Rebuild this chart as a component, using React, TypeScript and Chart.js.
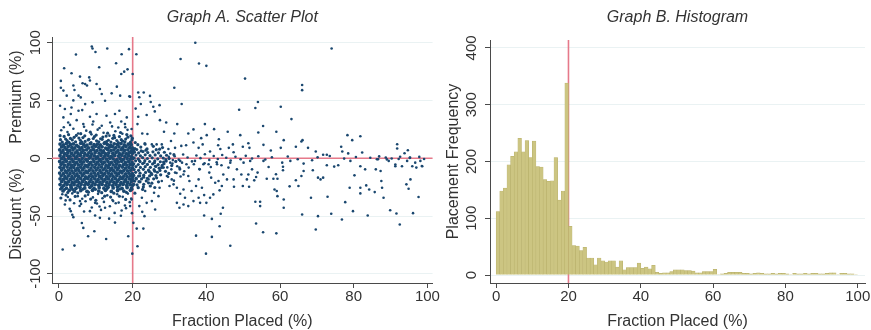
import React, { useEffect, useRef } from 'react';
import { Chart, registerables } from 'chart.js';

Chart.register(...registerables);

const FONT = '"Liberation Sans", Arial, Helvetica, sans-serif';
const TEXT = '#333333';
const AXIS = '#4a4a4a';
const GRID = '#eaf2f3';
const NAVY = '#1a476f';
const REF = '#e6798a';
const BAR_FILL = 'rgb(204,197,130)';
const BAR_EDGE = 'rgb(182,174,104)';

const scatterTitle = 'Graph A. Scatter Plot';
const histTitle = 'Graph B. Histogram';
const xTitle = 'Fraction Placed (%)';
const premiumLabel = 'Premium (%)';
const discountLabel = 'Discount (%)';
const histYLabel = 'Placement Frequency';

const scatterXTicks = [0, 20, 40, 60, 80, 100];
const scatterYTicks = [-100, -50, 0, 50, 100];
const histXTicks = [0, 20, 40, 60, 80, 100];
const histYTicks = [0, 100, 200, 300, 400];
const refFraction = 20;
const refPremium = 0;

// placements per 1%-wide bin of fraction placed (bins 0-1, 1-2, ... 99-100)
const histCounts = [
  112, 148, 153, 194, 209, 217, 241, 217, 237, 207, 236, 191, 190, 168, 165, 166, 207, 132, 148, 338,
  86, 52, 51, 43, 49, 30, 30, 18, 30, 25, 23, 25, 25, 14, 25, 9, 13, 13, 13, 21,
  12, 14, 11, 17, 5, 3, 4, 4, 6, 9, 9, 9, 8, 8, 7, 4, 4, 6, 6, 6,
  10, 1, 2, 3, 5, 5, 5, 5, 3, 3, 2, 3, 4, 3, 2, 2, 3, 2, 3, 3,
  2, 1, 3, 2, 2, 3, 2, 3, 3, 2, 2, 3, 4, 4, 1, 3, 3, 2, 2, 1,
];

// dense core of placements (fraction 0-20%)
const blobPoints: [number, number][] = [
  [0.3,12.3],[1.2,11.5],[2.0,12.8],[3.1,11.9],[3.9,12.4],[4.8,11.2],[5.9,12.9],[6.7,12.0],[7.6,11.4],[8.5,12.6],[9.5,11.8],[10.4,12.2],[11.2,11.6],[12.3,12.9],[13.1,12.1],[14.0,11.3],[15.0,12.5],[15.9,11.9],[16.8,12.7],[17.7,11.5],[18.8,12.2],[19.6,11.8],
  [0.7,9.8],[1.6,9.1],[2.5,10.2],[3.5,9.4],[4.3,8.9],[5.3,9.9],[6.2,9.2],[7.1,10.1],[8.0,9.0],[9.0,9.7],[9.9,10.3],[10.8,9.3],[11.7,9.9],[12.7,8.8],[13.6,9.6],[14.5,10.2],[15.4,9.1],[16.3,9.8],[17.3,9.3],[18.2,10.0],[19.2,9.4],[19.9,8.9],
  [0.2,7.3],[1.1,6.6],[2.1,7.5],[2.9,6.8],[3.8,7.2],[4.9,6.4],[5.7,7.6],[6.6,6.9],[7.5,7.3],[8.6,6.5],[9.4,7.4],[10.3,6.7],[11.3,7.1],[12.1,6.3],[13.2,7.5],[14.1,6.8],[14.9,7.2],[16.0,6.6],[16.9,7.4],[17.8,6.9],[18.7,7.3],[19.7,6.7],
  [0.6,4.8],[1.5,4.1],[2.4,5.0],[3.4,4.3],[4.4,4.7],[5.2,3.9],[6.1,4.9],[7.0,4.2],[8.1,4.6],[8.9,3.8],[9.8,4.8],[10.9,4.4],[11.8,4.9],[12.6,4.0],[13.5,4.7],[14.6,4.3],[15.5,5.0],[16.4,4.1],[17.4,4.6],[18.3,3.9],[19.1,4.8],[19.9,4.3],
  [0.3,2.2],[1.3,1.6],[2.2,2.5],[3.0,1.8],[4.0,2.3],[4.9,1.5],[5.8,2.4],[6.8,1.9],[7.7,2.6],[8.6,1.7],[9.6,2.1],[10.5,1.4],[11.4,2.5],[12.4,1.8],[13.3,2.3],[14.2,1.6],[15.1,2.4],[16.1,1.9],[17.0,2.6],[17.9,1.7],[18.9,2.2],[19.7,1.5],
  [0.7,-0.3],[1.6,-1.0],[2.6,0.0],[3.5,-0.8],[4.5,-0.2],[5.4,-1.1],[6.3,-0.4],[7.3,-0.9],[8.2,0.1],[9.2,-0.7],[10.1,-0.2],[11.0,-1.0],[11.9,-0.3],[12.9,-0.8],[13.8,0.0],[14.7,-0.6],[15.7,-1.1],[16.6,-0.2],[17.5,-0.9],[18.5,-0.4],[19.4,-0.7],[20.0,-0.1],
  [0.2,-2.8],[1.1,-3.4],[2.0,-2.6],[3.0,-3.3],[3.9,-2.9],[4.8,-3.6],[5.8,-2.7],[6.7,-3.2],[7.7,-2.5],[8.6,-3.5],[9.5,-2.8],[10.5,-3.3],[11.4,-2.6],[12.3,-3.4],[13.3,-2.9],[14.2,-3.5],[15.2,-2.7],[16.1,-3.2],[17.0,-2.6],[18.0,-3.6],[18.9,-2.9],[19.8,-3.3],
  [0.6,-5.2],[1.5,-5.9],[2.5,-5.3],[3.4,-6.0],[4.3,-5.4],[5.3,-5.8],[6.2,-5.1],[7.2,-6.1],[8.1,-5.5],[9.0,-5.9],[10.0,-5.2],[10.9,-5.7],[11.8,-5.0],[12.8,-6.0],[13.7,-5.4],[14.7,-5.8],[15.6,-5.1],[16.5,-6.1],[17.5,-5.5],[18.4,-5.9],[19.3,-5.3],[20.0,-5.7],
  [0.3,-7.8],[1.2,-8.4],[2.2,-7.6],[3.1,-8.3],[4.0,-7.9],[5.0,-8.6],[5.9,-7.7],[6.8,-8.2],[7.8,-7.5],[8.7,-8.5],[9.7,-7.8],[10.6,-8.3],[11.5,-7.6],[12.5,-8.4],[13.4,-7.9],[14.3,-8.6],[15.3,-7.7],[16.2,-8.2],[17.2,-7.6],[18.1,-8.5],[19.0,-7.9],[19.9,-8.3],
  [0.7,-10.2],[1.7,-10.9],[2.6,-10.3],[3.5,-11.0],[4.5,-10.4],[5.4,-10.8],[6.4,-10.1],[7.3,-11.1],[8.2,-10.5],[9.2,-10.9],[10.1,-10.2],[11.1,-10.7],[12.0,-10.0],[12.9,-11.0],[13.9,-10.4],[14.8,-10.8],[15.8,-10.1],[16.7,-11.1],[17.6,-10.5],[18.6,-10.9],[19.5,-10.3],
  [0.2,-12.8],[1.2,-13.4],[2.1,-12.6],[3.0,-13.3],[4.0,-12.9],[4.9,-13.6],[5.9,-12.7],[6.8,-13.2],[7.7,-12.5],[8.7,-13.5],[9.6,-12.8],[10.6,-13.3],[11.5,-12.6],[12.4,-13.4],[13.4,-12.9],[14.3,-13.6],[15.3,-12.7],[16.2,-13.2],[17.1,-12.6],[18.1,-13.6],[19.0,-12.9],[19.9,-13.3],
  [0.6,-15.2],[1.6,-15.9],[2.5,-15.3],[3.5,-16.0],[4.4,-15.4],[5.3,-15.8],[6.3,-15.1],[7.2,-16.1],[8.2,-15.5],[9.1,-15.9],[10.0,-15.2],[11.0,-15.7],[11.9,-15.0],[12.9,-16.0],[13.8,-15.4],[14.7,-15.8],[15.7,-15.1],[16.6,-16.1],[17.6,-15.5],[18.5,-15.9],[19.4,-15.3],[20.0,-15.8],
  [0.3,-17.8],[1.2,-18.4],[2.1,-17.6],[3.1,-18.3],[4.0,-17.9],[5.0,-18.6],[5.9,-17.7],[6.9,-18.2],[7.8,-17.5],[8.7,-18.5],[9.7,-17.8],[10.6,-18.3],[11.6,-17.6],[12.5,-18.4],[13.4,-17.9],[14.4,-18.6],[15.3,-17.7],[16.3,-18.2],[17.2,-17.6],[18.1,-18.5],[19.1,-17.9],[19.9,-18.3],
  [0.7,-20.2],[1.7,-20.9],[2.6,-20.3],[3.6,-21.0],[4.5,-20.4],[5.4,-20.8],[6.4,-20.1],[7.3,-21.1],[8.3,-20.5],[9.2,-20.9],[10.2,-20.2],[11.1,-20.7],[12.0,-20.0],[13.0,-21.0],[13.9,-20.4],[14.9,-20.8],[15.8,-20.1],[16.8,-21.1],[17.7,-20.5],[18.6,-20.9],[19.6,-20.3],
  [0.3,-22.8],[1.3,-23.4],[2.2,-22.6],[3.2,-23.3],[4.1,-22.9],[5.1,-23.6],[6.0,-22.7],[7.0,-23.2],[7.9,-22.5],[8.9,-23.5],[9.8,-22.8],[10.8,-23.3],[11.7,-22.6],[12.7,-23.4],[13.6,-22.9],[14.6,-23.6],[15.5,-22.7],[16.5,-23.2],[17.4,-22.6],[18.4,-23.5],[19.3,-22.9],[20.0,-23.3],
  [0.8,-25.3],[2.0,-25.9],[3.3,-25.1],[4.6,-26.0],[5.7,-25.4],[7.0,-25.8],[8.4,-25.2],[9.5,-26.1],[10.9,-25.5],[12.2,-25.9],[13.3,-25.2],[14.7,-25.7],[15.9,-25.0],[17.1,-26.0],[18.5,-25.4],[19.7,-25.8],
  [1.1,-28.3],[2.8,-27.6],[4.2,-28.5],[5.9,-27.9],[7.6,-28.6],[9.1,-27.7],[10.8,-28.4],[12.6,-27.8],[14.2,-28.7],[15.9,-27.9],[17.6,-28.4],[19.4,-27.7],
];

// softer edges of the core and the band just above the 20% cut-off
const bandPoints: [number, number][] = [
  [1.4,18.9],[3.1,17.2],[4.7,19.8],[6.5,17.9],[8.1,16.4],[9.6,18.7],[11.3,16.9],[12.8,19.2],[14.6,17.3],[16.4,18.8],[18.1,16.6],[19.5,19.4],
  [0.4,16.1],[2.2,15.3],[5.8,15.6],[10.2,15.1],[15.7,15.4],[19.8,15.9],[7.1,14.6],[12.9,14.4],[17.3,14.8],
  [0.9,14.1],[1.8,16.7],[2.7,13.8],[3.6,15.9],[4.5,14.3],[5.4,17.5],[6.2,13.9],[7.9,15.8],[8.7,13.6],[9.3,17.1],[10.8,14.2],[11.7,16.4],[12.4,13.7],[13.4,15.6],[14.1,14.0],[15.1,17.8],[16.1,13.5],[16.9,16.1],[17.9,14.2],[18.7,18.3],[19.4,13.9],
  [0.3,19.6],[2.6,20.4],[4.1,18.1],[5.9,21.3],[7.0,19.4],[8.5,22.6],[10.1,20.1],[11.9,18.4],[13.2,21.7],[14.9,19.8],[16.7,22.3],[18.4,20.5],[19.9,17.4],
  [0.4,-26.6],[1.5,-27.1],[2.4,-29.6],[3.7,-27.0],[5.1,-29.9],[6.5,-26.8],[8.0,-29.4],[9.9,-26.9],[11.6,-29.8],[13.0,-26.7],[14.9,-30.2],[16.6,-26.6],[18.3,-29.5],[19.8,-26.9],
  [1.9,-31.9],[4.4,-33.0],[7.1,-32.6],[8.6,-35.3],[12.4,-32.8],[14.0,-33.6],[16.4,-32.9],[18.1,-35.6],[0.5,-34.4],[10.0,-36.4],[3.0,-36.1],
  [20.5,5.3],[21.6,4.6],[22.8,5.8],[24.1,4.9],[25.5,5.6],[27.0,4.7],[28.6,5.2],
  [20.9,2.8],[22.1,2.1],[23.4,3.0],[24.7,2.3],[26.1,2.9],[27.6,2.0],[29.2,2.6],
  [20.4,0.3],[21.5,-0.4],[22.7,0.5],[24.0,-0.2],[25.3,0.4],[26.8,-0.5],[28.3,0.2],[29.9,-0.3],
  [20.8,-2.2],[22.0,-2.9],[23.3,-2.1],[24.6,-2.8],[26.0,-2.3],[27.5,-3.0],[29.1,-2.4],
  [20.3,-4.8],[21.5,-5.4],[22.7,-4.6],[24.0,-5.3],[25.4,-4.9],[26.9,-5.5],[28.5,-4.7],
  [20.9,-7.2],[22.1,-7.9],[23.4,-7.3],[24.8,-7.8],[26.3,-7.1],[27.9,-7.9],
  [20.4,-9.8],[21.6,-10.4],[22.9,-9.6],[24.3,-10.3],[25.8,-9.9],[27.4,-10.5],
  [20.8,-12.2],[22.0,-12.9],[23.5,-12.3],[25.0,-12.8],[26.7,-12.1],
  [20.3,-14.8],[21.6,-15.4],[23.0,-14.6],[24.6,-15.3],[26.3,-14.9],
  [20.9,-17.2],[22.4,-17.9],[24.0,-17.3],[25.7,-17.8],
  [20.5,-19.8],[22.0,-20.4],[23.7,-19.6],[21.2,-23.1],[23.0,-22.6],[24.8,-24.0],
  [20.6,8.4],[22.2,9.7],[23.9,8.1],[25.6,10.3],[21.4,11.8],[27.3,7.9],
  [20.2,6.9],[21.1,7.6],[22.3,6.4],[23.6,7.0],[20.7,13.6],[23.3,12.6],[26.4,7.4],[28.1,9.3],[29.0,-1.2],[28.0,-6.2],[28.9,-11.3],[27.6,-14.3],[26.5,-16.9],[27.0,-20.4],[25.2,-21.6],[21.5,-25.5],[26.0,-25.3],[22.7,-27.0],[20.6,-30.2],
  [30.6,-6.3],[31.7,-2.7],[31.2,3.1],[32.8,-9.4],[29.8,-13.1],[21.0,-17.9],[21.7,-20.3],[22.9,-24.8],[24.3,-21.3],[20.3,-22.5],[21.8,-2.0],[23.1,-3.9],[25.9,-3.8],[27.2,-8.6],[28.4,-3.3],[24.5,-11.4],[26.0,-11.2],[23.0,-16.4],[25.2,-14.0],
];

// sparse placements: thin band along zero and the outer fringe of the core
const sparsePoints: [number, number][] = [
  [0.6,24.2],[2.3,22.8],[3.9,25.6],[5.2,21.4],[7.4,23.9],[8.8,20.7],[10.5,24.8],[12.1,22.1],[13.7,19.6],[15.3,23.4],[17.2,21.2],[18.6,24.6],
  [1.3,26.8],[6.8,27.3],[11.0,26.2],[14.4,27.6],[18.0,26.9],[3.0,28.9],[9.1,29.3],[16.9,31.9],
  [0.9,-31.2],[2.4,-33.5],[3.6,-30.4],[5.1,-32.8],[6.3,-35.1],[7.9,-31.6],[9.2,-33.9],[10.6,-30.8],[11.8,-34.6],[13.1,-32.1],[14.5,-36.2],[15.8,-31.1],[17.3,-33.4],[18.7,-30.6],[19.6,-34.8],
  [1.8,-36.5],[4.1,-38.9],[5.6,-41.3],[7.2,-37.2],[8.9,-42.6],[10.3,-39.1],[12.2,-37.8],[13.8,-41.5],[16.2,-38.4],[17.9,-40.9],[19.2,-38.0],
  [2.9,-43.8],[6.8,-46.1],[11.4,-44.7],[15.1,-47.3],[18.2,-43.2],[3.6,-48.9],[9.8,-49.5],[13.6,-52.3],[16.8,-49.8],[19.8,-47.5],
  [15.4,-39.0],[6.0,-39.5],[11.0,-41.8],
  [30.2,4.1],[31.4,1.8],[32.5,-1.2],[33.7,3.2],[34.9,0.6],[36.1,-2.7],[37.3,2.4],[38.4,0.1],[39.6,3.5],[40.8,-1.4],[42.0,1.9],[43.1,-0.6],[44.3,2.8],[45.4,0.4],
  [30.8,-4.6],[32.1,-6.9],[33.4,-3.8],[35.2,-8.1],[36.6,-5.2],[38.1,-9.4],[39.5,-4.3],[41.2,-7.6],[42.8,-3.4],[44.1,-6.1],
  [30.5,-9.6],[31.9,-12.8],[34.0,-11.2],[29.6,-16.1],[31.2,-19.4],[33.0,-15.8],[29.4,-7.9],[29.8,1.2],[30.9,-1.6],
  [46.6,-1.9],[47.9,1.3],[49.3,-0.8],[50.7,2.1],[52.4,-0.2],[54.1,1.7],[56.0,-1.1],[57.8,0.9],
  [62.1,1.5],[64.8,-0.9],[70.2,0.8],[73.5,1.9],[77.4,-0.3],[80.6,1.1],[84.5,0.4],[86.9,1.6],[88.7,0.7],[90.3,-0.2],[92.6,1.3],[95.2,0.3],[97.8,1.2],[99.1,-0.6],
  [86.6,-0.9],[89.0,-1.0],[92.2,-0.6],[96.7,-3.8],[98.5,-6.7],[95.3,0.6],[91.3,-5.4],
];

// premiums (points above the core)
const upperPoints: [number, number][] = [
  [37,100],[74,95],[21,90],[33,86],[38,82],[40,80],[20,73],[50.5,69],[66,63.5],[66,59],[31.3,61],[21.5,57],[23,57],[24.7,54],[24.9,48.7],[22.2,47],[25.6,44.6],[27.3,46],[26,40.6],[33.3,47],[54,48.7],[53.3,43.5],[48.9,42],[60.2,44.6],[63.1,33.9],[55.4,28],[54.1,22.3],[59,23],[45.8,22.9],[42.1,25.2],[39.6,29.6],[36.5,25],[32.1,29.6],[29.1,31],[27.4,33],[23.8,37.4],[21.5,36],[28.5,23],[31.3,21.5],[35.1,21.5],[38.6,17.4],[40.1,20],[43.4,16.5],[49.2,20],[61,15.7],[66.1,15.7],[78.3,20],[81.8,19],[79.6,15.7],[91.8,12.2],[91.8,8.4],[94.7,7],[93.8,4.3],[76.6,10],[76.9,5.8],[82.3,5],[78.5,4.2],[69.7,5.8],[71.7,3],[72.7,3],[67.6,9],[65.8,14.5],[64.3,10],[60.2,9],[57.5,6.7],[55.5,11.6],[51.4,13],[51.7,9],[49.9,10],[47.2,12],[46.1,9],[47.4,5.2],[43.2,11.3],[43.8,8],[41,5.8],[37.9,9],[39,12],[36.5,13.6],[34.5,11.3],[33.2,10.7],[30.4,15],[31.5,9],[29.7,8],[27.9,12],[26.5,12],[25.2,12],[23.4,12],[22.6,21.5],[24,21],[21.3,29.6],[20.8,43],[21.8,52.8],
  [8.9,96.8],[9.1,95],[9.9,92],[13.1,95],[19,94.5],[4.6,89.8],[17,90],[15.5,82.3],[10.9,78.8],[1.4,78],[18.6,77],[3.4,73.6],[16.9,73],[5.7,70.7],[8.2,70],[8.4,67.3],[0.5,67],[6.4,65],[7.6,63],[10.2,64.3],[3.9,63],[1.2,58.6],[2.1,54.2],[4.2,59.1],[5.3,54.2],[5.9,52.7],[11.6,55.7],[14.3,56.2],[16.6,54.2],[19.3,53.3],[12.5,49.8],[9.1,48.4],[7.1,46.9],[0.3,45.5],[1.6,42.6],[3.4,44],[3.2,38.3],[5.3,41.2],[6.3,41.7],[8.4,36],[10.2,38.3],[12.9,36.8],[15.2,38.3],[16.4,41.2],[18.4,35.4],[1.2,35.4],[2.5,31],[4.8,33],[6.6,29.6],[9.3,31.9],[11.6,28.1],[13.9,31],[16.1,26.7],[17.9,29.6],[19.7,25.3],
  [7.1,64.3],[0.5,61],[3.9,50.1],[11.1,60],[15.7,62],[19.1,53.6],[17.7,75],
];

// discounts (points below the core)
const lowerPoints: [number, number][] = [
  [21.1,-60.9],[22.9,-60.9],[21.3,-76.2],[19.9,-82.6],[20.2,-55.9],[22.6,-46.4],[23.2,-50.1],[26.1,-44.3],[37.2,-67],[39.9,-82.6],[41.5,-68.1],[41.5,-52.5],[39.4,-49.6],[43.6,-58.8],[43.9,-48.1],[44.5,-42.9],[46.5,-75.7],[53.5,-56.5],[55.4,-64.1],[59,-65],[53.3,-37.7],[54.6,-37.7],[54.6,-41.4],[61,-42.9],[61,-35.7],[59.3,-32.8],[59.1,-28.4],[58.5,-27],[66,-48.7],[70.3,-50.1],[69.7,-61.7],[73.9,-48.1],[76.8,-53],[77.7,-38],[79.8,-45.8],[83.8,-49.6],[89.9,-45],[91.6,-47.8],[92.5,-57.4],[96.1,-47.5],[97.6,-33.6],[88.1,-34.2],[87.7,-25.5],[87.5,-19.7],[85.7,-29.3],[84.2,-27],[83.4,-23.5],[81.8,-25.5],[81.8,-30.4],[80.2,-14.8],[78.9,-25.5],[74.7,-7.2],[75.8,-6],[72.7,-6],[71.7,-16.8],[71,-18.3],[72.9,-33.3],[70.3,-16.8],[68.9,-10.4],[68.4,-34.2],[66.4,-11],[66.4,-4.6],[65.8,-15.4],[65,-24],[64.3,-19],[62.6,-24.3],[60.8,-10.4],[60.8,-7.4],[60.6,-3.8],[58.9,-13.9],[59.3,-17.7],[58.2,-17.7],[56.4,-17.7],[56.9,-7.5],[53.5,-16.2],[53,-19.1],[53.9,-12.4],[52.4,-9.6],[51.4,-14],[51,-18.3],[49.9,-24],[51.6,-24.6],[49.5,-14],[48.3,-9.6],[47.4,-18.3],[47.5,-24.6],[46,-8.1],[44.6,-14],[45.6,-18.3],[44.2,-24],[43.6,-27.8],[42.4,-21.2],[43.3,-19.7],[41.3,-16.8],[41.9,-31.3],[41,-34.2],[40,-38.6],[40.8,-12.4],[39.2,-5.2],[40.6,-5.2],[38.2,-9.6],[37.9,-18.3],[37.2,-24],[38.8,-25.5],[39.4,-31.9],[37.9,-34.2],[38.3,-38.6],[36.5,-37.1],[36,-28.4],[35.4,-19.7],[35.1,-41.4],[33.8,-40],[32.7,-42.9],[32,-38.6],[34.2,-34.2],[32.9,-30.7],[32,-25.5],[33.8,-27],[35.1,-15.4],[33.8,-14],[32.7,-8.1],[31.5,-12.4],[30.6,-18.3],[31.1,-22.6],[30,-24],[29.3,-15.4],[28.4,-8.1],[27.9,-19.7],[27.3,-25.5],[27,-32.8],[25.8,-29.9],[25.2,-37.1],[24.7,-24],[24.3,-18.3],[23.4,-28.4],[22.5,-34.2],[23.8,-38.6],[21.8,-41.4],[21.5,-25.5],[22,-15.4],[26.1,-6.9],[30.2,-3.8],[34.6,-5.2],[32.9,-2.3],[36.9,-2.3],[42.9,-5.2],[46.5,-3.8],[50.1,-3.8],[51.9,-2.3],[55.5,-2.3],[62.8,-2.3],[68.7,-1.7],[79.1,-2.3],[86.3,-0.9],[86,-9.6],[87.3,-11],[89.5,-2.3],[91.3,-6.9],[93.1,-6.9],[94.5,-2.3],[95.9,-6.9],[97,-8.1],[98.6,-6.9],[98.1,-2.3],[94.3,-22.6],[94.9,-26.4],[95.4,-18.3],[83.1,-9.6],[81.8,-6.9],
  [1.0,-79],[4.2,-75.6],[7.9,-67.5],[9.6,-63.2],[12.8,-69.9],[15.2,-55.7],[18.8,-67.5],[6.6,-60.3],[6.2,-56],[11.1,-51.6],[3.9,-51],[3.2,-45.8],[8.4,-45.8],[12.5,-42.9],[17,-45.2],[19.3,-41.4],[1.6,-40],[5.7,-37.1],[9.8,-38.6],[14.7,-37.1],[19.7,-35.7],
];

function vText(ctx: CanvasRenderingContext2D, t: string, cx: number, cy: number) {
  ctx.save();
  ctx.translate(cx, cy);
  ctx.rotate(-Math.PI / 2);
  ctx.fillText(t, 0, 0);
  ctx.restore();
}

function axisCommon(ticks: number[], isX: boolean, min: number, max: number, size: number) {
  return {
    type: 'linear' as const,
    min,
    max,
    offset: false,
    afterBuildTicks: (s: any) => { s.ticks = ticks.map((v) => ({ value: v })); },
    afterFit: (s: any) => { if (isX) s.height = size; else s.width = size; },
    grid: {
      display: true,
      offset: false,
      drawOnChartArea: !isX,
      color: GRID,
      lineWidth: 1,
      drawTicks: true,
      tickLength: 5,
      tickColor: AXIS,
      tickWidth: 1,
    },
    border: { display: true, color: AXIS, width: 1 },
    ticks: isX
      ? { display: true, font: { family: FONT, size: 15 }, color: TEXT, padding: 0, maxRotation: 0, minRotation: 0, autoSkip: false }
      : { display: false },
  };
}

function pointSet(points: [number, number][], radius: number) {
  return {
    data: points.map(([x, y]) => ({ x, y })),
    pointRadius: radius,
    pointHoverRadius: radius,
    pointBorderWidth: 0,
    pointBackgroundColor: NAVY,
    backgroundColor: NAVY,
    borderColor: NAVY,
  };
}

export default function App() {
  const leftRef = useRef<HTMLCanvasElement>(null);
  const rightRef = useRef<HTMLCanvasElement>(null);

  useEffect(() => {
    const scatterDecor = {
      id: 'scatterDecor',
      beforeDatasetsDraw(chart: any) {
        const { ctx, chartArea: a, scales } = chart;
        const px = scales.x.getPixelForValue(refFraction);
        const py = scales.y.getPixelForValue(refPremium);
        ctx.save();
        ctx.strokeStyle = REF;
        ctx.lineWidth = 1.6;
        ctx.beginPath();
        ctx.moveTo(px, a.top);
        ctx.lineTo(px, a.bottom);
        ctx.moveTo(a.left, py);
        ctx.lineTo(a.right, py);
        ctx.stroke();
        ctx.restore();
      },
      afterDraw(chart: any) {
        const { ctx, chartArea: a, scales } = chart;
        ctx.save();
        ctx.fillStyle = TEXT;
        ctx.textAlign = 'center';
        ctx.textBaseline = 'middle';
        ctx.font = `italic 16px ${FONT}`;
        ctx.fillText(scatterTitle, (a.left + a.right) / 2, 18);
        ctx.font = `16px ${FONT}`;
        ctx.fillText(xTitle, (a.left + a.right) / 2, 322);
        vText(ctx, premiumLabel, 17, 97);
        vText(ctx, discountLabel, 17, 214);
        ctx.font = `15px ${FONT}`;
        for (const v of scatterYTicks) vText(ctx, String(v), 36, scales.y.getPixelForValue(v));
        ctx.restore();
      },
    };

    const histDecor = {
      id: 'histDecor',
      beforeDatasetsDraw(chart: any) {
        const { ctx, chartArea: a, scales } = chart;
        const px = scales.x.getPixelForValue(refFraction);
        ctx.save();
        ctx.strokeStyle = REF;
        ctx.lineWidth = 1.6;
        ctx.beginPath();
        ctx.moveTo(px, a.top);
        ctx.lineTo(px, a.bottom);
        ctx.stroke();
        ctx.restore();
      },
      afterDraw(chart: any) {
        const { ctx, chartArea: a, scales } = chart;
        ctx.save();
        ctx.fillStyle = TEXT;
        ctx.textAlign = 'center';
        ctx.textBaseline = 'middle';
        ctx.font = `italic 16px ${FONT}`;
        ctx.fillText(histTitle, (a.left + a.right) / 2, 18);
        ctx.font = `16px ${FONT}`;
        ctx.fillText(xTitle, (a.left + a.right) / 2, 322);
        vText(ctx, histYLabel, 19, (a.top + a.bottom) / 2);
        ctx.font = `15px ${FONT}`;
        for (const v of histYTicks) vText(ctx, String(v), 37, scales.y.getPixelForValue(v));
        ctx.restore();
      },
    };

    const left = new Chart(leftRef.current as HTMLCanvasElement, {
      type: 'scatter',
      data: {
        datasets: [
          pointSet(sparsePoints, 1.3),
          pointSet(upperPoints, 1.3),
          pointSet(lowerPoints, 1.3),
          pointSet(bandPoints, 1.6),
          pointSet(blobPoints, 1.9),
        ],
      },
      options: {
        animation: false,
        responsive: false,
        maintainAspectRatio: false,
        devicePixelRatio: 1,
        events: [],
        layout: { padding: { left: 0, right: 7, top: 37, bottom: 0 } },
        plugins: { legend: { display: false }, tooltip: { enabled: false }, title: { display: false } },
        scales: {
          x: axisCommon(scatterXTicks, true, -1.9, 101.4, 47),
          y: axisCommon(scatterYTicks, false, -108, 105, 52),
        },
      } as any,
      plugins: [scatterDecor],
    });

    const right = new Chart(rightRef.current as HTMLCanvasElement, {
      type: 'bar',
      data: {
        datasets: [
          {
            data: histCounts.map((c, i) => ({ x: i + 0.5, y: c })),
            backgroundColor: BAR_FILL,
            borderColor: BAR_EDGE,
            borderWidth: 0.5,
            barPercentage: 1,
            categoryPercentage: 1,
          },
        ],
      },
      options: {
        animation: false,
        responsive: false,
        maintainAspectRatio: false,
        devicePixelRatio: 1,
        events: [],
        layout: { padding: { left: 0, right: 6, top: 40, bottom: 0 } },
        plugins: { legend: { display: false }, tooltip: { enabled: false }, title: { display: false } },
        scales: {
          x: axisCommon(histXTicks, true, -1.7, 102, 47),
          y: axisCommon(histYTicks, false, -14, 414, 55),
        },
      } as any,
      plugins: [histDecor],
    });

    return () => {
      left.destroy();
      right.destroy();
    };
  }, []);

  return (
    <div style={{ position: 'fixed', left: 0, top: 0, width: 871, height: 330, background: '#ffffff' }}>
      <canvas ref={leftRef} width={440} height={330} style={{ position: 'absolute', left: 0, top: 0, width: 440, height: 330 }} />
      <canvas ref={rightRef} width={436} height={330} style={{ position: 'absolute', left: 435, top: 0, width: 436, height: 330 }} />
    </div>
  );
}
